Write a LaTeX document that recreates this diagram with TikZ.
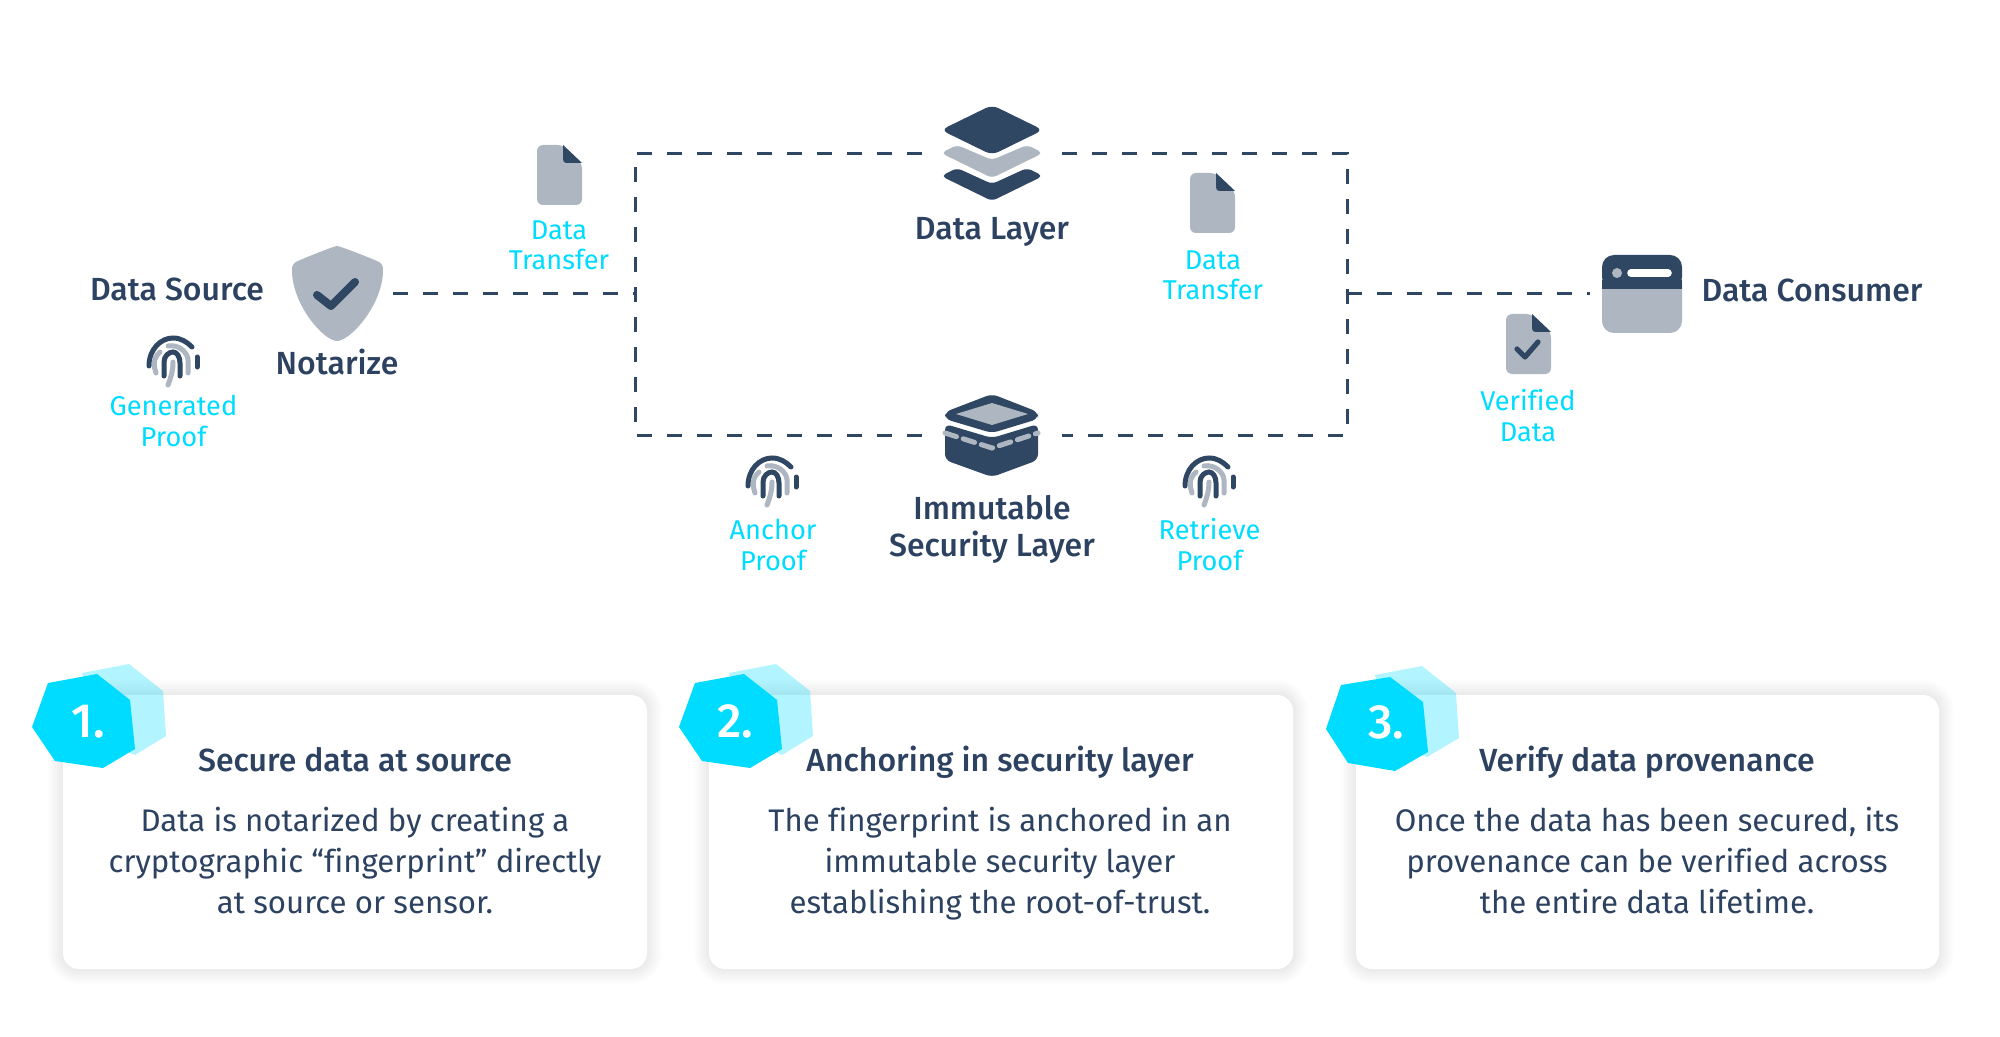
\documentclass[tikz,border=0pt]{standalone}
\usepackage{fontspec}
\setmainfont[Ligatures=NoCommon]{Fira Sans}
\newfontfamily\medf[Ligatures=NoCommon]{Fira Sans Medium}
\definecolor{dark}{HTML}{2F4763}
\definecolor{txt}{HTML}{2C4260}
\definecolor{greyc}{HTML}{ADB6C1}
\definecolor{cyanc}{HTML}{00DCFF}
\tikzset{
  x=0.5pt,y=-0.5pt,
  head/.style={font=\medf\fontsize{16}{19}\selectfont,text=txt,anchor=base,inner sep=0pt},
  blue/.style={font=\fontsize{13.6}{15.3}\selectfont,text=cyanc,anchor=base,inner sep=0pt,align=center},
  ctitle/.style={font=\medf\fontsize{16}{19}\selectfont,text=txt,anchor=base,inner sep=0pt},
  cbody/.style={font=\fontsize{15.6}{20.4}\selectfont,text=txt,anchor=base,inner sep=0pt,align=center},
  num/.style={font=\medf\fontsize{24}{25}\selectfont,text=white,anchor=base,inner sep=0pt},
  conn/.style={draw=dark,line width=1.5pt,dash pattern=on 7.5pt off 7.5pt},
  fpd/.style={draw=dark,line width=2.5pt,line cap=round,fill=none},
  fpg/.style={draw=greyc,line width=2.5pt,line cap=round,fill=none},
  fingerprint/.pic={
    \draw[fpd] (-24,3) .. controls (-24,-14) and (-12,-25) .. (0,-25) .. controls (8,-25) and (14,-21) .. (19,-16);
    \draw[fpd] (24,-6) -- (24,4);
    \draw[fpg] (-17,10) .. controls (-19,4) and (-21,-4) .. (-13,-11);
    \draw[fpg] (-5,-17) .. controls (6,-19) and (15,-10) .. (15,-3) -- (15,10);
    \draw[fpd] (-9,13) -- (-9,-1) .. controls (-9,-7) and (-4,-11) .. (0,-11) .. controls (4,-11) and (7,-6) .. (7,0) -- (7,13);
    \draw[fpg] (-5,22) .. controls (-2,14) and (0,8) .. (0,-1);
  },
  docicon/.pic={
    \fill[greyc,rounded corners=3pt] (0,0) -- (26,0) -- (45,18) -- (45,60) -- (0,60) -- cycle;
    \fill[dark] (26,0) -- (45,18) -- (30,18) .. controls (27,18) and (26,17) .. (26,14) -- cycle;
  },
  hexes/.pic={
    \fill[cyanc,opacity=.3] (82,673) -- (129,664) -- (163,691) -- (166,736) -- (135,755) -- (100,740) -- cycle;
    \fill[cyanc] (48,683) -- (97,674) -- (130,700) -- (135,749) -- (103,768) -- (55,761) -- (32,727) -- cycle;
  },
}
\newcommand{\card}[3]{%
  \foreach \s in {1,2,...,10}{
    \fill[black,opacity=.0065,rounded corners={8pt+\s*0.75pt}] ({#1-\s*1.5},{695-\s*1.5}) rectangle ({#2+\s*1.5},{969+\s*1.5});
  }
  \node[inner sep=0pt] (#3) at ({(#1+#2)/2},832) {};
  \fill[white,rounded corners=8pt] (#1,695) rectangle (#2,969);
}
\begin{document}
\begin{tikzpicture}
\useasboundingbox (0,0) rectangle (2000,1037);
\fill[white] (0,0) rectangle (2000,1037);
% connector endpoints
\coordinate (srcr) at (393,294);
\coordinate (boxl) at (635,294);
\coordinate (boxr) at (1347,294);
\coordinate (consl) at (1590,294);
\coordinate (tl) at (635,154);
\coordinate (tr) at (1347,154);
\coordinate (bl) at (635,435);
\coordinate (br) at (1347,435);
\coordinate (ta) at (922,154);
\coordinate (tb) at (1062,154);
\coordinate (ba) at (922,435);
\coordinate (bb) at (1062,435);
\path[conn] (srcr) -- (boxl);
\path[conn] (boxr) -- (consl);
\path[conn] (ta) -- (tl) -- (bl) -- (ba);
\path[conn] (tb) -- (tr) -- (br) -- (bb);
% data layer icon
\fill[dark,rounded corners=3.5pt] (992,105) -- (1043,130) -- (992,155) -- (941,130) -- cycle;
\fill[greyc,rounded corners=2.5pt] (941,153) -- (957,145) -- (992,160) -- (1027,145) -- (1043,153) -- (992,178) -- cycle;
\fill[dark,rounded corners=2.5pt] (941,176) -- (957,168) -- (992,184) -- (1027,168) -- (1043,176) -- (992,201) -- cycle;
% security layer icon
\fill[dark,rounded corners=3pt] (992,394) -- (1038,412) -- (1038,419) -- (992,433) -- (945,419) -- (945,412) -- cycle;
\fill[greyc] (992,403) -- (1028,414) -- (992,425) -- (956,414) -- cycle;
\fill[dark,rounded corners=3pt] (945,424) -- (992,438) -- (1038,424) -- (1038,460) -- (992,477) -- (945,460) -- cycle;
\draw[greyc,line width=2.5pt,dash pattern=on 6pt off 3.5pt,line cap=round] (945,433) -- (992,448) -- (1038,433);
% shield
\fill[greyc] (337,246) .. controls (340,246) and (378,261) .. (379,262) .. controls (382,264) and (383,266) .. (383,270)
  .. controls (383,305) and (350,341) .. (337,341) .. controls (324,341) and (292,305) .. (292,270)
  .. controls (292,266) and (293,264) .. (296,262) .. controls (297,261) and (334,246) .. (337,246) -- cycle;
\draw[dark,line width=4pt,line cap=round,line join=round] (317,295) -- (331,306) -- (355,282);
% browser
\fill[greyc,rounded corners=6pt] (1602,270) rectangle (1682,333);
\fill[dark,rounded corners=6pt] (1602,289) -- (1602,255) -- (1682,255) -- (1682,289) -- cycle;
\fill[dark] (1602,280) rectangle (1682,289);
\fill[greyc] (1617,273) circle[radius=5];
\draw[white,line width=3.8pt,line cap=round] (1631,273) -- (1668,273);
% docs
\pic at (537,145) {docicon};
\pic at (1190,173) {docicon};
\pic at (1506,314) {docicon};
\draw[dark,line width=2.6pt,line cap=round,line join=round] (1517,349) -- (1525,357) -- (1538,342);
% fingerprints
\pic at (173,363) {fingerprint};
\pic at (772,483) {fingerprint};
\pic at (1209,483) {fingerprint};
% labels
\node[head] (lsrc) at (177,301) {Data Source};
\node[head] (lnot) at (337,374) {Notarize};
\node[head] (ldl) at (992,240) {Data Layer};
\node[head] (lcons) at (1812,302) {Data Consumer};
\node[head] (lsec1) at (992,519.5) {Immutable};
\node[head] (lsec2) at (992,556.5) {Security Layer};
\node[blue] (gp) at (173.5,446.5) {Generated\\Proof};
\node[blue] (dt1) at (559,270) {Data\\Transfer};
\node[blue] (dt2) at (1213,300) {Data\\Transfer};
\node[blue] (vd) at (1528,441) {Verified\\Data};
\node[blue] (ap) at (773,570.5) {Anchor\\Proof};
\node[blue] (rp) at (1209.5,570.5) {Retrieve\\Proof};
% cards
\card{63}{647}{c1}
\card{709}{1293}{c2}
\card{1356}{1939}{c3}
\pic at (0,0) {hexes};
\pic at (647,0) {hexes};
\fill[cyanc,opacity=.3] (1375,675) -- (1422,666) -- (1456,693) -- (1459,738) -- (1427,757) -- (1392,742) -- cycle;
\fill[cyanc] (1341,685) -- (1390,677) -- (1423,702) -- (1428,752) -- (1395,771) -- (1348,763) -- (1326,729) -- cycle;
\node[num] (n1) at (88,737) {1.};
\node[num] (n2) at (735,737) {2.};
\node[num] (n3) at (1386,738) {3.};
\node[ctitle] (t1) at (355,771) {Secure data at source};
\node[ctitle] (t2) at (1000,771) {Anchoring in security layer};
\node[ctitle] (t3) at (1647,771) {Verify data provenance};
\node[cbody] (b1) at (355,913) {Data is notarized by creating a\\cryptographic “fingerprint” directly\\at source or sensor.};
\node[cbody] (b2) at (1000,913) {The fingerprint is anchored in an\\immutable security layer\\establishing the root-of-trust.};
\node[cbody] (b3) at (1647,913) {Once the data has been secured, its\\provenance can be verified across\\the entire data lifetime.};
\end{tikzpicture}
\end{document}
